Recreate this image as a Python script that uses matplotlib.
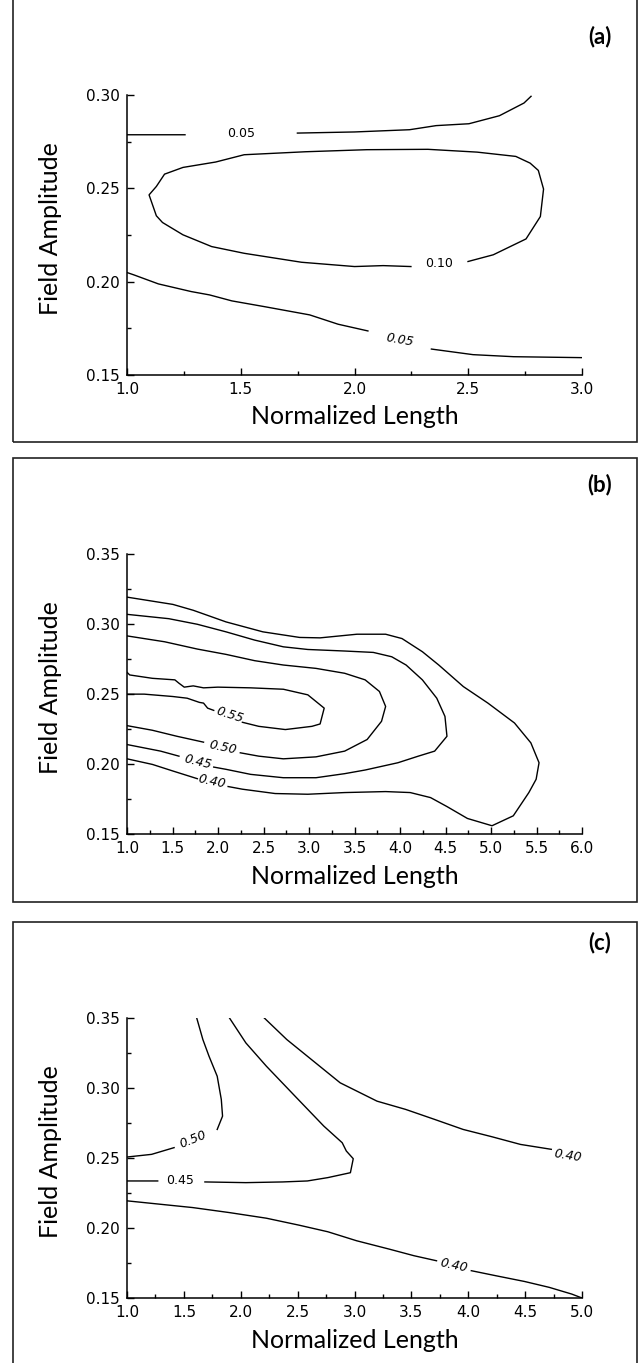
import matplotlib
matplotlib.use("Agg")
import matplotlib.pyplot as plt
import numpy as np
from matplotlib.patches import Rectangle
from matplotlib.ticker import MultipleLocator, FormatStrFormatter

nan = np.nan

a_05_top_x = [1.0, 1.255, nan, 1.749, 2.0, 2.242, 2.359, 2.503, 2.637, 2.745, 2.776]
a_05_top_y = [0.2787, 0.2787, nan, 0.2796, 0.2802, 0.2814, 0.2836, 0.2846, 0.2889, 0.2957, 0.2993]

a_10_x = [2.499, 2.610, 2.754, 2.817, 2.831, 2.808, 2.772, 2.709, 2.539, 2.323, 2.054,
          1.785, 1.515, 1.390, 1.246, 1.165, 1.129, 1.097, 1.129, 1.156, 1.246, 1.372,
          1.515, 1.767, 2.000, 2.126, 2.248]
a_10_y = [0.2108, 0.2144, 0.2229, 0.2349, 0.2496, 0.2596, 0.2635, 0.2671, 0.2694, 0.2709,
          0.2707, 0.2696, 0.2680, 0.2641, 0.2612, 0.2576, 0.2510, 0.2465, 0.2353, 0.2317,
          0.2251, 0.2188, 0.2152, 0.2104, 0.2081, 0.2086, 0.2081]

a_05_low_x = [1.0, 1.031, 1.138, 1.282, 1.363, 1.461, 1.605, 1.803, 1.928, 2.059, nan,
              2.338, 2.521, 2.700, 3.0]
a_05_low_y = [0.2049, 0.2036, 0.1988, 0.1947, 0.1929, 0.1897, 0.1866, 0.1822, 0.1772,
              0.1736, nan, 0.1639, 0.1609, 0.1598, 0.1593]

a_lab_text = ["0.05", "0.10", "0.05"]
a_lab_x = [1.50, 2.373, 2.20]
a_lab_y = [0.2793, 0.2095, 0.1690]

# ---- panel (b) ----
b_55_x = [1.0, 1.03, 1.279, 1.526, 1.571, 1.629, 1.728, 1.841, 1.998, 2.358, 2.718, 2.987,
          3.167, 3.122, 3.032, 2.740, 2.448, 2.268, nan, 1.953, 1.886, 1.841, 1.796, 1.661,
          1.504, 1.189, 1.0]
b_55_y = [0.2655, 0.2636, 0.2612, 0.2601, 0.2577, 0.2549, 0.2558, 0.2544, 0.2549, 0.2544,
          0.2534, 0.2494, 0.2399, 0.2286, 0.2269, 0.2246, 0.2269, 0.2298, nan, 0.2383,
          0.2399, 0.2435, 0.2440, 0.2470, 0.2482, 0.2499, 0.2499]

b_50_x = [1.0, 1.414, 1.773, 2.088, 2.403, 2.718, 3.077, 3.392, 3.617, 3.774, 3.842, 3.797,
          3.639, 3.392, 3.077, 2.718, 2.448, 2.245, nan, 1.841, 1.549, 1.279, 1.0]
b_50_y = [0.2915, 0.2873, 0.2821, 0.2783, 0.2738, 0.2707, 0.2683, 0.2648, 0.2601, 0.2518,
          0.2411, 0.2305, 0.2175, 0.2092, 0.2051, 0.2037, 0.2056, 0.2080, nan, 0.2156,
          0.2198, 0.2241, 0.2274]

b_45_x = [1.0, 1.459, 1.773, 2.088, 2.403, 2.718, 2.987, 3.392, 3.707, 3.909, 4.067, 4.246,
          4.404, 4.494, 4.516, 4.381, 4.201, 3.977, 3.617, 3.392, 3.077, 2.718, 2.358,
          2.088, 1.953, nan, 1.571, 1.369, 1.0]
b_45_y = [0.3069, 0.3038, 0.2998, 0.2944, 0.2885, 0.2837, 0.2818, 0.2807, 0.2797, 0.2766,
          0.2707, 0.2601, 0.2470, 0.2340, 0.2198, 0.2092, 0.2056, 0.2009, 0.1957, 0.1931,
          0.1902, 0.1902, 0.1926, 0.1962, 0.1978, nan, 0.2056, 0.2092, 0.2139]

b_40_x = [1.0, 1.504, 1.728, 2.088, 2.493, 2.897, 3.122, 3.527, 3.842, 4.022, 4.246, 4.426,
          4.696, 4.966, 5.258, 5.438, 5.528, 5.496, 5.416, 5.245, 5.011, 4.741, 4.516,
          4.336, 4.112, 3.842, 3.392, 2.987, 2.628, 2.268, 2.111, nan, 1.773, 1.504,
          1.279, 1.0]
b_40_y = [0.3192, 0.3140, 0.3098, 0.3015, 0.2944, 0.2904, 0.2901, 0.2927, 0.2927, 0.2896,
          0.2802, 0.2707, 0.2553, 0.2435, 0.2293, 0.2151, 0.2009, 0.1891, 0.1796, 0.1630,
          0.1559, 0.1611, 0.1696, 0.1760, 0.1796, 0.1803, 0.1796, 0.1784, 0.1789, 0.1820,
          0.1839, nan, 0.1895, 0.1950, 0.1997, 0.2037]

b_lab_text = ["0.55", "0.50", "0.45", "0.40"]
b_lab_x = [2.124, 2.052, 1.773, 1.931]
b_lab_y = [0.2352, 0.2120, 0.2014, 0.1872]

# ---- panel (c) ----
c_50_x = [1.613, 1.667, 1.721, 1.793, 1.829, 1.840, 1.793, nan, 1.414, 1.216, 1.0]
c_50_y = [0.35, 0.3346, 0.3227, 0.3084, 0.2918, 0.2799, 0.2704, nan, 0.2574, 0.2526, 0.2507]

c_45_x = [1.901, 2.045, 2.225, 2.477, 2.730, 2.892, 2.928, 2.989, 2.964, 2.766, 2.586,
          2.369, 2.045, 1.685, nan, 1.270, 1.0]
c_45_y = [0.35, 0.3322, 0.3156, 0.2942, 0.2728, 0.2609, 0.2550, 0.2495, 0.2395, 0.2360,
          0.2336, 0.2329, 0.2324, 0.2329, nan, 0.2336, 0.2336]

c_40_top_x = [2.207, 2.405, 2.622, 2.874, 3.198, 3.450, 3.703, 3.955, 4.207, 4.459, 4.730]
c_40_top_y = [0.35, 0.3346, 0.3203, 0.3037, 0.2906, 0.2847, 0.2776, 0.2704, 0.2652,
              0.2597, 0.2562]

c_40_low_x = [1.0, 1.288, 1.577, 1.901, 2.225, 2.514, 2.766, 3.018, 3.306, 3.523, 3.721,
              nan, 4.027, 4.243, 4.495, 4.712, 4.910, 5.0]
c_40_low_y = [0.2194, 0.2170, 0.2146, 0.2110, 0.2070, 0.2020, 0.1973, 0.1909, 0.1849,
              0.1802, 0.1766, nan, 0.1695, 0.1659, 0.1618, 0.1576, 0.1528, 0.15]

c_lab_text = ["0.50", "0.45", "0.40", "0.40"]
c_lab_x = [1.584, 1.468, 4.874, 3.876]
c_lab_y = [0.2633, 0.2336, 0.2519, 0.1730]

panel_names = ["(a)", "(b)", "(c)"]

W, H = 639, 1363
fig = plt.figure(figsize=(W / 100, H / 100), dpi=100)


def fig_rect(left, top, right, bottom):
    # pixel box -> figure fraction [x0, y0, w, h]
    return [left / W, 1 - bottom / H, (right - left) / W, (bottom - top) / H]


def setup(ax, xmax, ymax):
    ax.set_xlim(1.0, xmax)
    ax.set_ylim(0.15, ymax)
    ax.spines["top"].set_visible(False)
    ax.spines["right"].set_visible(False)
    for s in ["left", "bottom"]:
        ax.spines[s].set_linewidth(1.1)
    ax.xaxis.set_major_locator(MultipleLocator(0.5))
    ax.xaxis.set_minor_locator(MultipleLocator(0.25))
    ax.yaxis.set_major_locator(MultipleLocator(0.05))
    ax.yaxis.set_minor_locator(MultipleLocator(0.025))
    ax.xaxis.set_major_formatter(FormatStrFormatter("%.1f"))
    ax.yaxis.set_major_formatter(FormatStrFormatter("%.2f"))
    ax.tick_params(which="both", direction="in", width=1.0, labelsize=11,
                   top=False, right=False)
    ax.tick_params(which="major", length=5, pad=5)
    ax.tick_params(which="minor", length=3)


line_kw = dict(color="black", linewidth=1.0)
lab_kw = dict(fontsize=9, ha="center", va="center", color="black")

# axes boxes in pixels (left, top, right, bottom) and outer frames
axes_px = [(127, 95, 582, 375), (127, 554, 582, 834), (127, 1018, 582, 1298)]
frames_px = [(13, -3, 637, 442), (13, 458, 637, 902), (13, 922, 637, 1368)]
name_px = [(600, 37), (600, 485), (600, 943)]

axs = [fig.add_axes(fig_rect(*p)) for p in axes_px]

# panel (a)
ax = axs[0]
setup(ax, 3.0, 0.30)
ax.plot(a_05_top_x, a_05_top_y, **line_kw)
ax.plot(a_10_x, a_10_y, **line_kw)
ax.plot(a_05_low_x, a_05_low_y, **line_kw)
for t, x, y, r in zip(a_lab_text, a_lab_x, a_lab_y, [0, 0, -10]):
    ax.text(x, y, t, rotation=r, style="italic" if r else "normal", **lab_kw)

# panel (b)
ax = axs[1]
setup(ax, 6.0, 0.35)
for xs, ys in [(b_55_x, b_55_y), (b_50_x, b_50_y), (b_45_x, b_45_y), (b_40_x, b_40_y)]:
    ax.plot(xs, ys, **line_kw)
for t, x, y, r in zip(b_lab_text, b_lab_x, b_lab_y, [-18, -12, -14, -12]):
    ax.text(x, y, t, rotation=r, style="italic", **lab_kw)

# panel (c)
ax = axs[2]
setup(ax, 5.0, 0.35)
for xs, ys in [(c_50_x, c_50_y), (c_45_x, c_45_y), (c_40_top_x, c_40_top_y),
               (c_40_low_x, c_40_low_y)]:
    ax.plot(xs, ys, **line_kw)
for t, x, y, r in zip(c_lab_text, c_lab_x, c_lab_y, [22, 0, -9, -12]):
    ax.text(x, y, t, rotation=r, style="italic" if r else "normal", **lab_kw)

# axis titles, panel letters and the boxes round each panel
for (l, t, r, b), fr, nm, name in zip(axes_px, frames_px, name_px, panel_names):
    fig.text((l + r) / 2 / W, 1 - (b + 42) / H, "Normalized Length",
             family="Lato", fontsize=18, ha="center", va="center")
    fig.text(51 / W, 1 - ((t + b) / 2 - 6) / H, "Field Amplitude",
             family="Lato", fontsize=18, rotation=90, ha="center", va="center")
    fig.text(nm[0] / W, 1 - nm[1] / H, name, family="Lato", fontweight="bold",
             fontsize=16, ha="center", va="center")
    fx = fig_rect(*fr)
    fig.patches.append(Rectangle((fx[0], fx[1]), fx[2], fx[3], transform=fig.transFigure,
                                 fill=False, edgecolor="#222222", linewidth=1.2))

fig.savefig("out.png", dpi=100)
